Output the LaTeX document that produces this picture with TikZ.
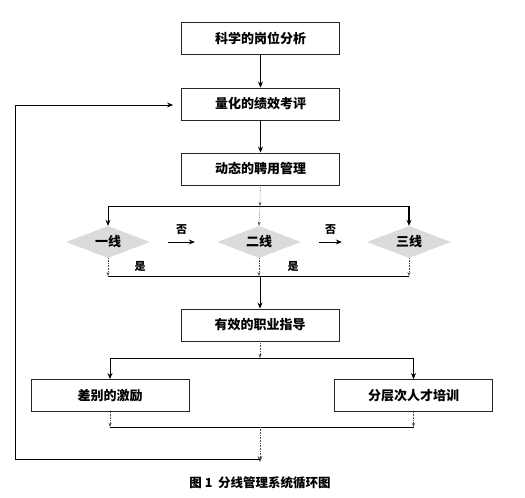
\documentclass[tikz,border=0pt]{standalone}
\usepackage{fontspec}
\newfontfamily\cjk{Noto Sans CJK SC}
\usetikzlibrary{calc, positioning, shapes.geometric, arrows.meta}

\begin{document}
\begin{tikzpicture}[x=1pt, y=-1pt,
  box/.style={draw=black!85, line width=0.9pt, fill=white, minimum width=158pt,
    minimum height=32pt, inner sep=0pt, font=\cjk\bfseries\fontsize{13}{13}\selectfont},
  line/.style={draw, line width=0.8pt},
  flow/.style={line, -{Stealth[length=6pt, width=5pt]}},
  thinflow/.style={draw=black!70, densely dotted, line width=0.6pt, -{Stealth[length=4pt, width=3pt]}},
  lane/.style={diamond, aspect=2.6, minimum width=84pt, minimum height=32pt, inner sep=0pt,
    fill=gray!28, font=\cjk\bfseries\fontsize{13}{13}\selectfont},
  tag/.style={font=\cjk\bfseries\fontsize{11}{11}\selectfont}]
  \useasboundingbox (0,0) rectangle (525,498);

  % main chain
  \node[box] (jobs) at (260.5,38.5) {科学的岗位分析};
  \node[box] (perf) at (260.5,104) {量化的绩效考评};
  \node[box] (hire) at (260.5,169) {动态的聘用管理};
  \node[box] (guide) at (260,325) {有效的职业指导};
  \node[box] (bonus) at (110,395.5) {差别的激励};
  \node[box] (train) at (413.5,395.5) {分层次人才培训};
  \draw[flow] (jobs) -- (perf);
  \draw[flow] (perf) -- (hire);

  % three lanes
  \foreach \x/\name/\txt in {108/one/一线, 259/two/二线, 409/three/三线}
    \node[lane] (\name) at (\x,242) {\txt};
  \coordinate (split) at (260,206);
  \coordinate (merge) at (260,276);
  \draw[thinflow] (hire) -- (split);
  \draw[line] (split -| one) -- (split -| three);
  \draw[flow] (split -| one) -- (one.north);
  \draw[flow, line width=1.3pt] (split -| three) -- (three.north);
  \draw[thinflow] (split) -- (two.north);
  \draw[flow] ([xshift=18pt]one.east) -- node[tag, above=4pt] {否} ([xshift=-22pt]two.west);
  \draw[flow] ([xshift=18pt]two.east) -- node[tag, above=4pt] {否} ([xshift=-25pt]three.west);
  \foreach \name in {one, two, three}
    \draw[thinflow] (\name.south) -- (merge -| \name);
  \draw[line] (merge -| one) -- (merge -| three);
  \node[tag] at (140,266) {是};
  \node[tag] at (293,266) {是};
  \draw[flow] (merge) -- (guide);

  % development
  \coordinate (fork) at (260,358);
  \coordinate (join) at (260,427);
  \coordinate (back) at (260,459);
  \draw[thinflow] (guide) -- (fork);
  \draw[line] (fork -| bonus) -- (fork -| train);
  \draw[flow] (fork -| bonus) -- (bonus);
  \draw[flow] (fork -| train) -- (train);
  \draw[thinflow] (bonus) -- (join -| bonus);
  \draw[thinflow] (train) -- (join -| train);
  \draw[line] (join -| bonus) -- (join -| train);
  \draw[thinflow, -{Stealth[length=6pt, width=5pt]}] (join) -- ([yshift=-3pt]back);

  % feedback loop
  \draw[flow] (back) -- (15,459) -- (15,105) -- ([xshift=-8pt]perf.west |- 0,105);

  \node[font=\cjk\bfseries\fontsize{12.5}{12.5}\selectfont] (caption) at (260,483) {图 1\ \ 分线管理系统循环图};
\end{tikzpicture}
\end{document}
